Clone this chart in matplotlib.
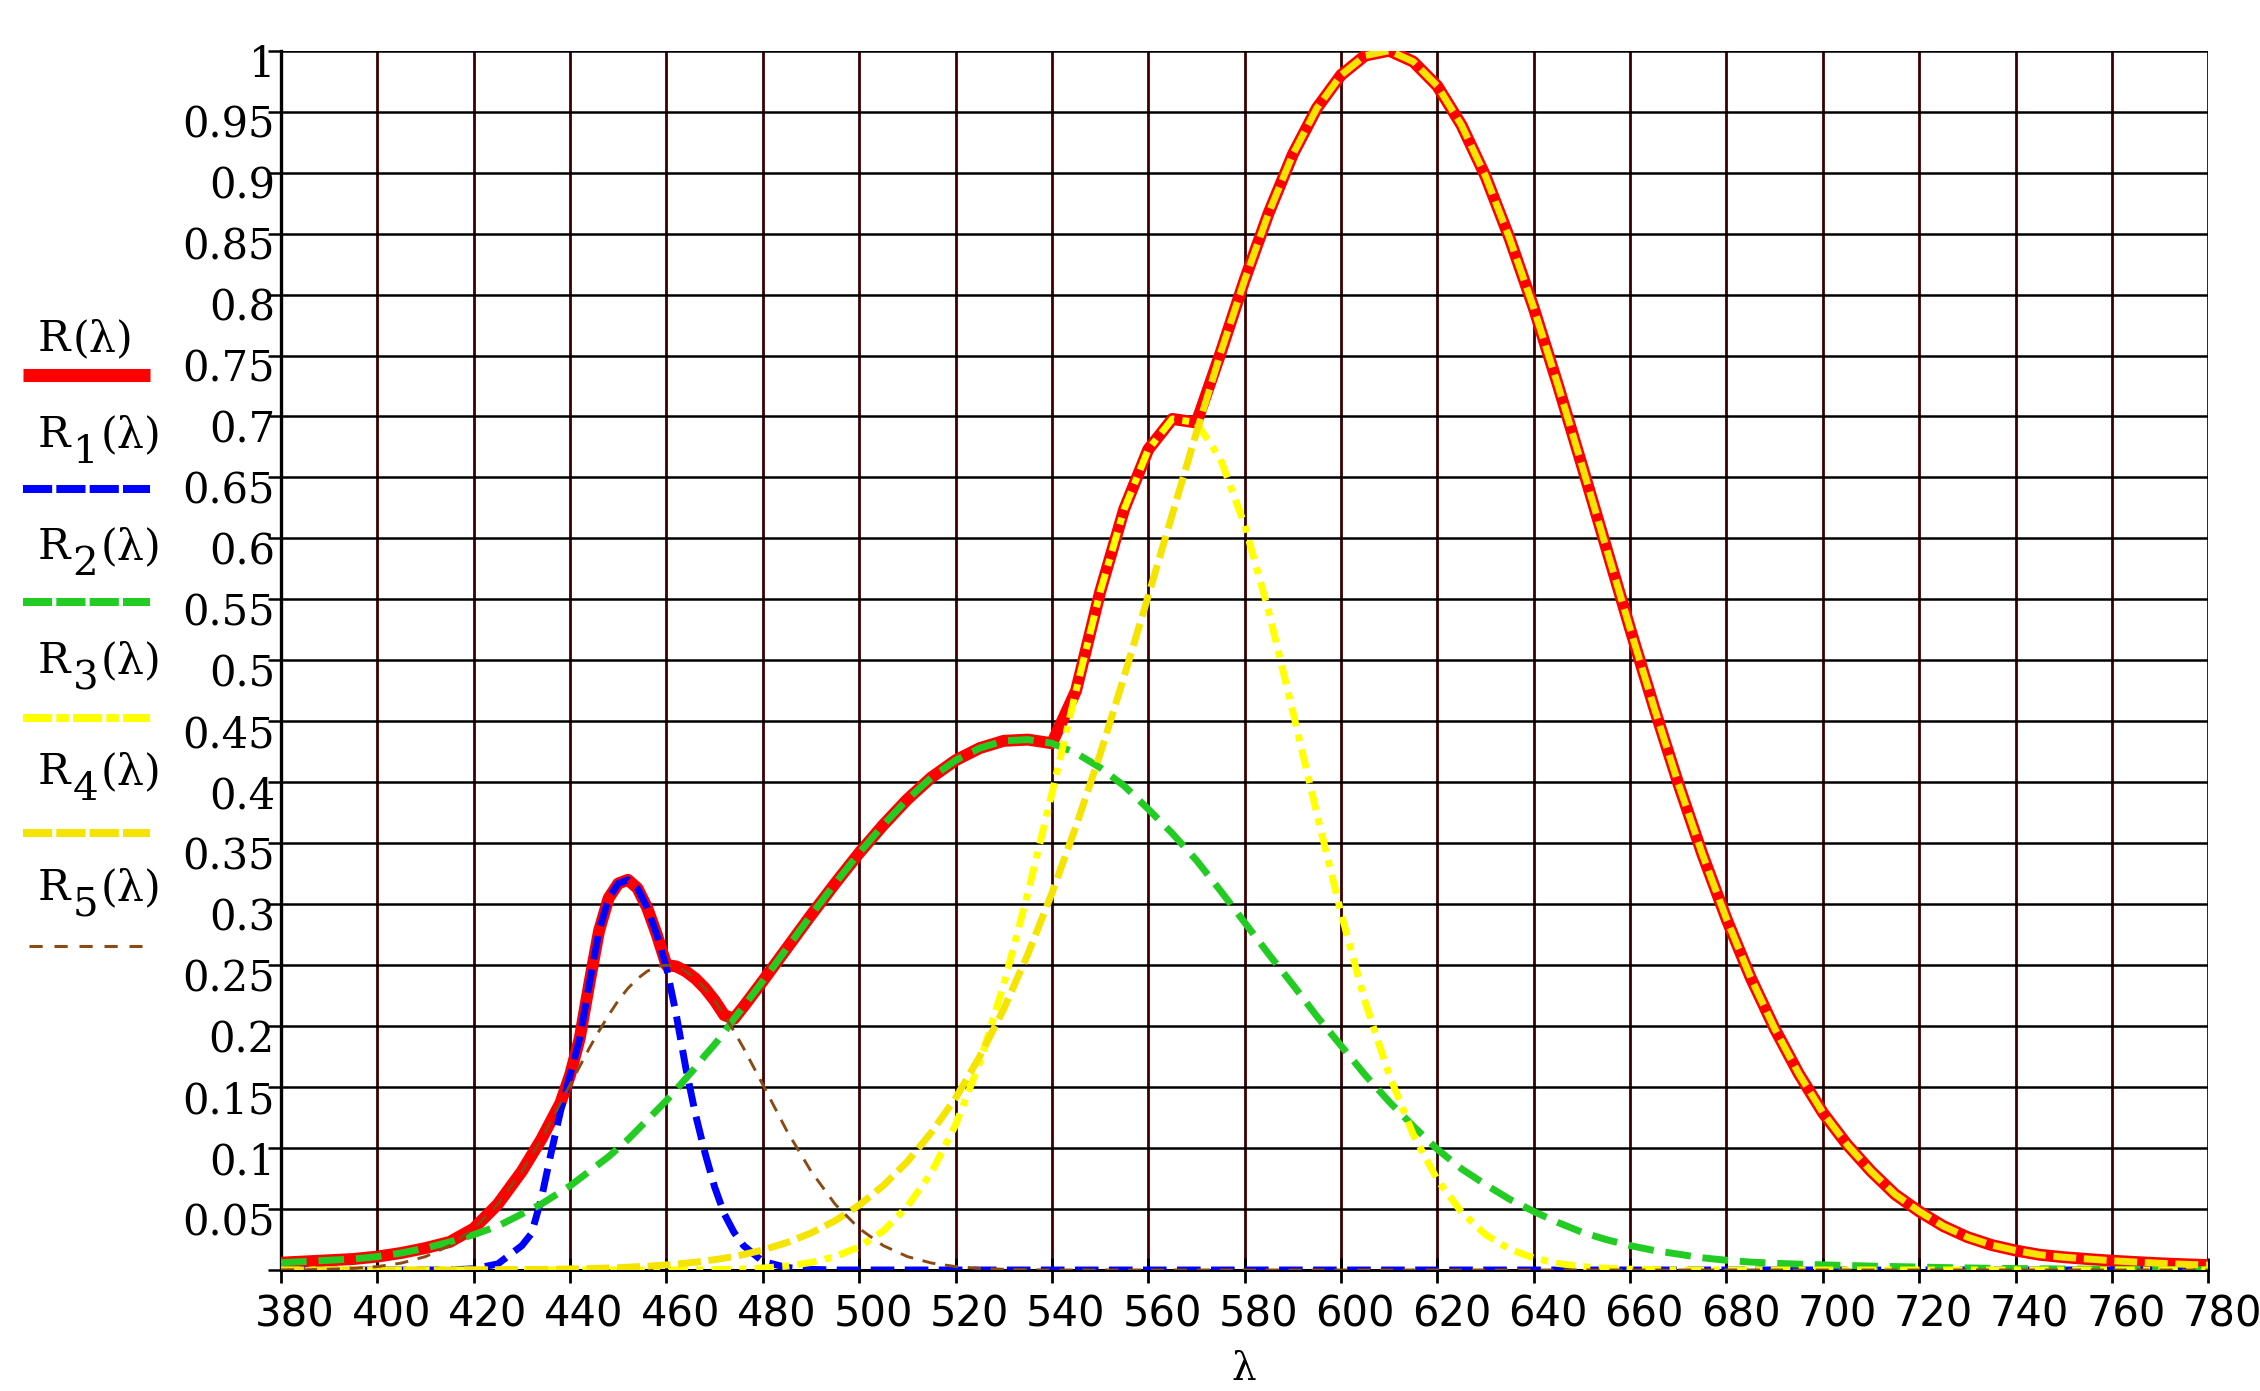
"""Reflectance R(lambda) as the upper envelope of five component bands R1..R5."""

import numpy as np
import matplotlib
matplotlib.use("Agg")
import matplotlib.pyplot as plt
from matplotlib.lines import Line2D
from matplotlib.transforms import IdentityTransform, ScaledTranslation

plt.rcParams["lines.scale_dashes"] = False

W, H = 2260, 1391

# ---- data (nm / relative value) ----
wl = ([380, 385, 390, 395, 400, 405, 410, 415, 420, 425]
      + [430, 432, 434, 436, 438, 440, 442, 444, 446, 448, 450, 452,
         454, 456, 458, 460, 462, 464, 466, 468, 470, 472, 474, 476]
      + [480, 485, 490, 495, 500, 505, 510, 515, 520, 525, 530, 535, 540,
         545, 550, 555, 560, 565, 570, 575, 580, 585, 590, 595, 600,
         605, 610, 615, 620, 625, 630, 635, 640, 645, 650, 655, 660,
         665, 670, 675, 680, 685, 690, 695, 700, 705, 710, 715, 720,
         725, 730, 735, 740, 745, 750, 755, 760, 765, 770, 775, 780])

r1 = ([0.0, 0.0, 0.0, 0.0, 0.0, 0.0, 0.0, 0.0, 0.001, 0.005]
      + [0.02, 0.03, 0.058, 0.095, 0.13, 0.16, 0.19, 0.235, 0.278, 0.305, 0.317, 0.32,
         0.313, 0.297, 0.275, 0.248, 0.21, 0.166, 0.128, 0.096, 0.068, 0.046, 0.031, 0.02]
      + [0.007, 0.002, 0.0005, 0.0, 0.0, 0.0, 0.0, 0.0, 0.0, 0.0, 0.0, 0.0, 0.0,
         0.0, 0.0, 0.0, 0.0, 0.0, 0.0, 0.0, 0.0, 0.0, 0.0, 0.0, 0.0,
         0.0, 0.0, 0.0, 0.0, 0.0, 0.0, 0.0, 0.0, 0.0, 0.0, 0.0, 0.0,
         0.0, 0.0, 0.0, 0.0, 0.0, 0.0, 0.0, 0.0, 0.0, 0.0, 0.0, 0.0,
         0.0, 0.0, 0.0, 0.0, 0.0, 0.0, 0.0, 0.0, 0.0, 0.0, 0.0, 0.0])

r2 = ([0.006, 0.007, 0.008, 0.009, 0.011, 0.014, 0.018, 0.023, 0.029, 0.036]
      + [0.046, 0.05, 0.054, 0.059, 0.064, 0.069, 0.075, 0.081, 0.087, 0.093, 0.1, 0.107,
         0.115, 0.123, 0.131, 0.139, 0.148, 0.157, 0.166, 0.176, 0.185, 0.195, 0.206, 0.216]
      + [0.237, 0.264, 0.291, 0.317, 0.342, 0.365, 0.386, 0.404, 0.418, 0.428, 0.434, 0.435, 0.432,
         0.424, 0.412, 0.397, 0.378, 0.358, 0.336, 0.311, 0.285, 0.259, 0.234, 0.208, 0.184,
         0.16, 0.138, 0.118, 0.099, 0.083, 0.07, 0.058, 0.048, 0.039, 0.031, 0.025, 0.02,
         0.016, 0.013, 0.01, 0.008, 0.0065, 0.0055, 0.0048, 0.0042, 0.0037, 0.0032, 0.0028, 0.0024,
         0.002, 0.0017, 0.0014, 0.0012, 0.001, 0.0008, 0.0007, 0.0006, 0.0005, 0.0004, 0.0003, 0.0002])

r3 = ([0.0, 0.0, 0.0, 0.0, 0.0, 0.0, 0.0, 0.0, 0.0, 0.0]
      + [0.0, 0.0, 0.0, 0.0, 0.0, 0.0, 0.0, 0.0, 0.0, 0.0, 0.0, 0.0,
         0.0, 0.0, 0.0, 0.0, 0.0, 0.0, 0.0, 0.0002, 0.0003, 0.0005, 0.0007, 0.0009]
      + [0.0016, 0.0032, 0.0061, 0.011, 0.019, 0.032, 0.052, 0.08, 0.119, 0.17, 0.234, 0.309, 0.391,
         0.475, 0.556, 0.624, 0.673, 0.698, 0.695, 0.665, 0.611, 0.54, 0.458, 0.374, 0.293,
         0.22, 0.16, 0.111, 0.074, 0.0475, 0.029, 0.017, 0.0099, 0.0054, 0.0028, 0.0014, 0.0007,
         0.0003, 0.0, 0.0, 0.0, 0.0, 0.0, 0.0, 0.0, 0.0, 0.0, 0.0, 0.0,
         0.0, 0.0, 0.0, 0.0, 0.0, 0.0, 0.0, 0.0, 0.0, 0.0, 0.0, 0.0])

r4 = ([0.0, 0.0, 0.0, 0.0, 0.0, 0.0, 0.0, 0.0, 0.0002, 0.0002]
      + [0.0004, 0.0004, 0.0005, 0.0006, 0.0007, 0.0009, 0.001, 0.0012, 0.0014, 0.0017, 0.0019, 0.0023,
         0.0027, 0.0031, 0.0036, 0.0042, 0.0048, 0.0056, 0.0064, 0.0074, 0.0085, 0.0097, 0.0111, 0.0127]
      + [0.0164, 0.0225, 0.0303, 0.0404, 0.0532, 0.0692, 0.0889, 0.113, 0.141, 0.175, 0.214, 0.259, 0.309,
         0.364, 0.423, 0.487, 0.553, 0.62, 0.687, 0.752, 0.812, 0.867, 0.915, 0.953, 0.98,
         0.996, 1.0, 0.991, 0.971, 0.939, 0.897, 0.846, 0.789, 0.726, 0.66, 0.593, 0.526,
         0.461, 0.399, 0.341, 0.288, 0.24, 0.198, 0.161, 0.129, 0.103, 0.081, 0.062, 0.048,
         0.036, 0.027, 0.0205, 0.016, 0.0125, 0.0105, 0.009, 0.0076, 0.0065, 0.0055, 0.0047, 0.004])

r5 = ([0.0001, 0.0002, 0.0006, 0.0013, 0.0028, 0.0057, 0.011, 0.02, 0.034, 0.054]
      + [0.081, 0.094, 0.107, 0.122, 0.137, 0.152, 0.167, 0.182, 0.196, 0.209, 0.221, 0.231,
         0.239, 0.245, 0.249, 0.25, 0.249, 0.245, 0.239, 0.231, 0.221, 0.209, 0.196, 0.182]
      + [0.152, 0.114, 0.081, 0.054, 0.034, 0.02, 0.011, 0.0057, 0.0028, 0.0013, 0.0006, 0.0002, 0.0,
         0.0, 0.0, 0.0, 0.0, 0.0, 0.0, 0.0, 0.0, 0.0, 0.0, 0.0, 0.0,
         0.0, 0.0, 0.0, 0.0, 0.0, 0.0, 0.0, 0.0, 0.0, 0.0, 0.0, 0.0,
         0.0, 0.0, 0.0, 0.0, 0.0, 0.0, 0.0, 0.0, 0.0, 0.0, 0.0, 0.0,
         0.0, 0.0, 0.0, 0.0, 0.0, 0.0, 0.0, 0.0, 0.0, 0.0, 0.0, 0.0])

x_ticks = list(range(380, 781, 20))
y_ticks = [0.0, 0.05, 0.1, 0.15, 0.2, 0.25, 0.3, 0.35, 0.4, 0.45, 0.5,
           0.55, 0.6, 0.65, 0.7, 0.75, 0.8, 0.85, 0.9, 0.95, 1.0]
y_labels = ["", "0.05", "0.1", "0.15", "0.2", "0.25", "0.3", "0.35", "0.4", "0.45", "0.5",
            "0.55", "0.6", "0.65", "0.7", "0.75", "0.8", "0.85", "0.9", "0.95", "1"]

# R is the upper envelope of the five bands
R = np.max(np.vstack([r1, r2, r3, r4, r5]), axis=0)

# subscript, colour, width (pt), dashes (pt) for plot / legend
STYLES = [
    ("", "#ff0000", 8.6, None, None),
    ("1", "#0000ff", 5.0, (17, 7.5), (21, 3)),
    ("2", "#22cc22", 5.0, (18.5, 8.5), (21, 3)),
    ("3", "#ffff00", 5.0, (14, 6, 5, 6), (21, 3, 9, 3)),
    ("4", "#f5e400", 5.0, (16.5, 5.5), (21, 3)),
    ("5", "#8b4a14", 2.1, (9.5, 7), (9.5, 8.5)),
]
SERIES = [R, r1, r2, r3, r4, r5]

fig = plt.figure(figsize=(W / 100, H / 100), dpi=100)
ax = fig.add_axes([281 / W, 1 - 1270 / H, (2208.3 - 281) / W, (1270 - 50.7) / H])

for (sub, c, lw, dash, _), y in zip(STYLES, SERIES):
    if dash is None:
        ax.plot(wl, y, color=c, lw=lw, solid_capstyle="butt", solid_joinstyle="round", zorder=3)
    else:
        ax.plot(wl, y, color=c, lw=lw, dashes=dash, zorder=4)

ax.set_xlim(380, 780)
ax.set_ylim(0, 1)
ax.set_xticks(x_ticks)
ax.set_xticklabels([str(v) for v in x_ticks], fontsize=30, family="DejaVu Sans")
ax.set_yticks(y_ticks)
ax.set_yticklabels(y_labels, fontsize=30, family="DejaVu Serif")

ax.set_axisbelow(True)
ax.xaxis.grid(True, color="#3d0000", lw=2.0)
ax.yaxis.grid(True, color="black", lw=1.8)
for s in ("top", "right"):
    ax.spines[s].set_visible(False)
ax.spines["left"].set_linewidth(2.4)
ax.spines["bottom"].set_linewidth(2.2)
ax.tick_params(axis="x", direction="inout", length=18, width=2, color="black", pad=8)
ax.tick_params(axis="y", direction="out", length=9.4, width=1.8, color="black", pad=-5)

dx = ScaledTranslation(14 / 100, 0, fig.dpi_scale_trans)
for lab in ax.get_xticklabels():
    lab.set_transform(lab.get_transform() + dx)
dy = ScaledTranslation(0, -9.5 / 100, fig.dpi_scale_trans)
for lab in ax.get_yticklabels():
    lab.set_transform(lab.get_transform() + dy)

# x label at the lower edge
fig.text(1244, 3, "λ", transform=IdentityTransform(), fontsize=28,
         family="DejaVu Serif", ha="center", va="bottom")

# ---- hand-made legend on the left ----
renderer = fig.canvas.get_renderer()
line_y = [375, 489, 602, 718, 833, 946]
base_y = [351, 447, 559, 673, 784, 900]
for (sub, c, lw, _, ldash), ly, by in zip(STYLES, line_y, base_y):
    kw = dict(transform=IdentityTransform(), fontsize=31, family="DejaVu Serif",
              va="baseline", color="black")
    t = fig.text(38, H - by, "R", **kw)
    x = t.get_window_extent(renderer).x1 + 2
    if sub:
        s = fig.text(x, H - by - 16, sub, **{**kw, "fontsize": 29})
        x = s.get_window_extent(renderer).x1 + 3
    fig.text(x, H - by, "(λ)", **kw)

    x0, x1 = (23, 150) if sub != "5" else (29, 142)
    if ldash is None:
        ln = Line2D([x0, x1], [H - ly, H - ly], color=c, lw=9.4, solid_capstyle="butt",
                    transform=IdentityTransform())
    else:
        ln = Line2D([x0, x1], [H - ly, H - ly], color=c, lw=lw * 1.15 if sub != "5" else 2.2,
                    dashes=ldash, transform=IdentityTransform())
    fig.add_artist(ln)

fig.savefig("out.png", dpi=100)
plt.close(fig)
